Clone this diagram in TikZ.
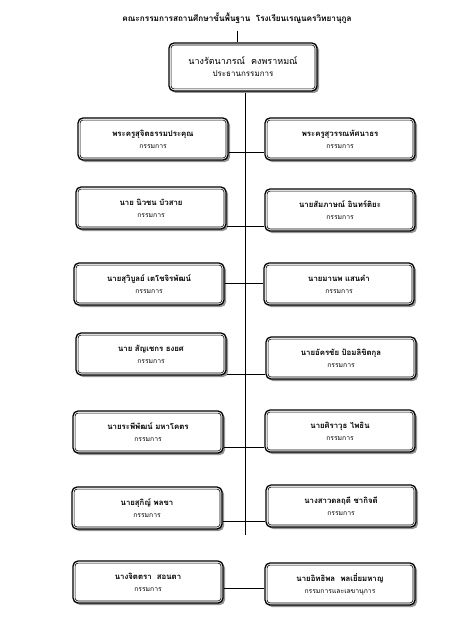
\documentclass[tikz,border=0pt]{standalone}
\usepackage{fontspec}
\newfontfamily\thai[Script=Thai]{Loma}
\usetikzlibrary{shadows}
\begin{document}
\begin{tikzpicture}[x=1pt,y=-1pt,font=\thai,
  box/.style={draw,line width=1.3pt,rounded corners=5pt,fill=white,align=center,
    inner sep=0pt,minimum width=150pt,minimum height=42pt,
    drop shadow={shadow xshift=2pt,shadow yshift=-2pt,fill=black!60,opacity=0.7}},
  inner/.style={line width=0.6pt,rounded corners=3pt},
  link/.style={line width=0.6pt}]
\useasboundingbox (0,0) rectangle (470,623);
\node[font=\thai\fontsize{8.2}{10}\selectfont\bfseries] (title) at (237,18)
  {คณะกรรมการสถานศึกษาขั้นพื้นฐาน\ \ โรงเรียนเรณูนครวิทยานุกูล};
\node[box,minimum width=148pt,minimum height=48pt] (top) at (243,67)
  {\fontsize{9}{14}\selectfont นางรัตนาภรณ์\ \ คงพราหมณ์\\ \fontsize{8}{10}\selectfont ประธานกรรมการ};
\newcommand\pbox[5]{\node[box] (#1) at (#2,#3) {{\fontsize{7.8}{13}\selectfont\bfseries #4}\\{\fontsize{6.8}{9}\selectfont #5}};}
\pbox{l1}{153}{139}{พระครูสุจิตธรรมประคุณ}{กรรมการ}
\pbox{r1}{340}{139}{พระครูสุวรรณทัศนาธร}{กรรมการ}
\pbox{l2}{151}{208}{นาย นิวชน บัวสาย}{กรรมการ}
\pbox{r2}{340}{210}{นายสัมภาษณ์ อินทร์ติยะ}{กรรมการ}
\pbox{l3}{149}{284}{นายสุวิบูลย์ เตโชจิรพัฒน์}{กรรมการ}
\pbox{r3}{339}{284}{นายมานพ แสนคำ}{กรรมการ}
\pbox{l4}{151}{354}{นาย สัญเชกร ธงยศ}{กรรมการ}
\pbox{r4}{341}{358}{นายอัครชัย ป้อมลิขิตกุล}{กรรมการ}
\pbox{l5}{148}{432}{นายระพีพัฒน์ มหาโคตร}{กรรมการ}
\pbox{r5}{340}{431}{นายศิราวุธ ไพธิน}{กรรมการ}
\pbox{l6}{147}{508}{นายสุกิญ์ พลขา}{กรรมการ}
\pbox{r6}{341}{506}{นางสาวดลฤดี ชากิจดี}{กรรมการ}
\pbox{l7}{148}{582}{นางจิตตรา\ \ สอนตา}{กรรมการ}
\pbox{r7}{340}{584}{นายอิทธิพล\ \ พลเยี่ยมหาญ}{กรรมการและเลขานุการ}
\foreach \n in {top,l1,r1,l2,r2,l3,r3,l4,r4,l5,r5,l6,r6,l7,r7}
  \draw[inner] ([shift={(2.7pt,2.7pt)}]\n.south west) rectangle ([shift={(-2.7pt,-2.7pt)}]\n.north east);
\coordinate (t0) at (237,31);
\draw[link] (t0) -- (t0 |- top.north);
\coordinate (vtop) at (245,93);
\coordinate (vbot) at (245,535);
\draw[link] (vtop) -- (vbot);
\foreach \i/\yy in {1/152,2/226,3/283,4/374,5/447,6/521,7/588}{
  \coordinate (h\i) at (245,\yy);
  \draw[link] (l\i.east |- h\i) -- (r\i.west |- h\i);
}
\end{tikzpicture}
\end{document}
